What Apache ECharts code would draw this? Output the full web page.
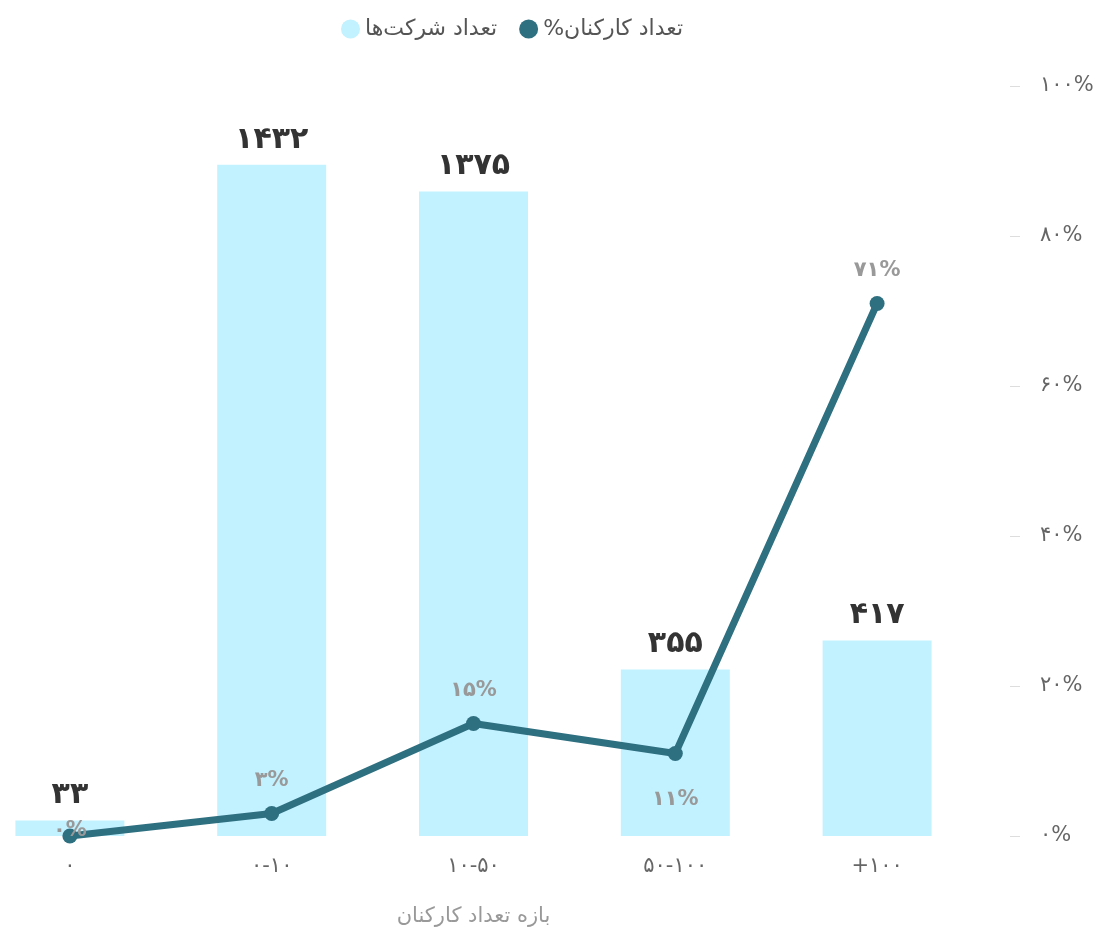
<!DOCTYPE html>
<html>
<head>
<meta charset="utf-8">
<script src="https://cdn.jsdelivr.net/npm/echarts@6/dist/echarts.min.js"></script>
<style>html,body{margin:0;padding:0;background:#fff}#c{width:1101px;height:930px}</style>
</head>
<body>
<div id="c"></div>
<script>
const categories = ["۰", "۰-۱۰", "۱۰-۵۰", "۵۰-۱۰۰", "+۱۰۰"];
const companyCounts = [33, 1432, 1375, 355, 417];
const employeePercent = [0, 3, 15, 11, 71];
const percentTicks = [0, 20, 40, 60, 80, 100];
const seriesNames = ["تعداد شرکت‌ها", "%تعداد کارکنان"];
const xAxisName = "بازه تعداد کارکنان";

const fa = s => String(s).replace(/\d/g, d => "۰۱۲۳۴۵۶۷۸۹"[d]);
const FONT = "DejaVu Sans";

const chart = echarts.init(document.getElementById('c'), null, {renderer: 'canvas'});
chart.setOption({
  animation: false,
  textStyle: {fontFamily: FONT},
  legend: {
    top: 13,
    left: 336,
    itemWidth: 19, itemHeight: 19, itemGap: 22,
    icon: 'circle',
    textStyle: {fontSize: 22, color: '#555', fontFamily: FONT},
    data: seriesNames
  },
  grid: {left: -31, right: 123, top: 86, bottom: 94, outerBoundsMode: 'none', containLabel: false},
  xAxis: {
    type: 'category',
    data: categories,
    axisLine: {show: false},
    axisTick: {show: false},
    axisLabel: {fontSize: 21, color: '#666', margin: 20, fontFamily: FONT},
    name: xAxisName,
    nameLocation: 'middle',
    nameGap: 70,
    nameTextStyle: {fontSize: 21, color: '#999', fontFamily: FONT}
  },
  yAxis: [
    {type: 'value', min: 0, max: 1600, show: false},
    {
      type: 'value', position: 'right', min: 0, max: 100, interval: 20, offset: 32,
      axisLine: {show: false},
      axisTick: {show: true, length: 10, lineStyle: {color: '#ddd'}},
      splitLine: {show: false},
      axisLabel: {fontSize: 21, color: '#666', margin: 30, fontFamily: FONT,
        formatter: v => percentTicks.includes(v) ? fa(v) + '%' : ''}
    }
  ],
  series: [
    {
      name: seriesNames[0], type: 'bar', yAxisIndex: 0,
      data: companyCounts,
      barWidth: '54%',
      itemStyle: {color: '#c2f1ff'},
      label: {show: true, position: 'top', distance: 10, fontSize: 30, fontWeight: 'bold', color: '#333', fontFamily: FONT,
        formatter: p => fa(p.value)}
    },
    {
      name: seriesNames[1], type: 'line', yAxisIndex: 1,
      data: employeePercent.map((v, i) => {
        if (i === 3) return {value: v, label: {position: 'bottom', distance: 28}};
        if (i === 0) return {value: v, label: {position: 'inside', offset: [0, -5]}};
        return v;
      }),
      symbol: 'circle', symbolSize: 15,
      lineStyle: {width: 7, color: '#2e6f80'},
      itemStyle: {color: '#2e6f80'},
      label: {show: true, position: 'top', distance: 15, fontSize: 21, fontWeight: 'bold', color: '#999', fontFamily: FONT,
        formatter: p => fa(p.value) + '%'}
    }
  ]
});
</script>
</body>
</html>
